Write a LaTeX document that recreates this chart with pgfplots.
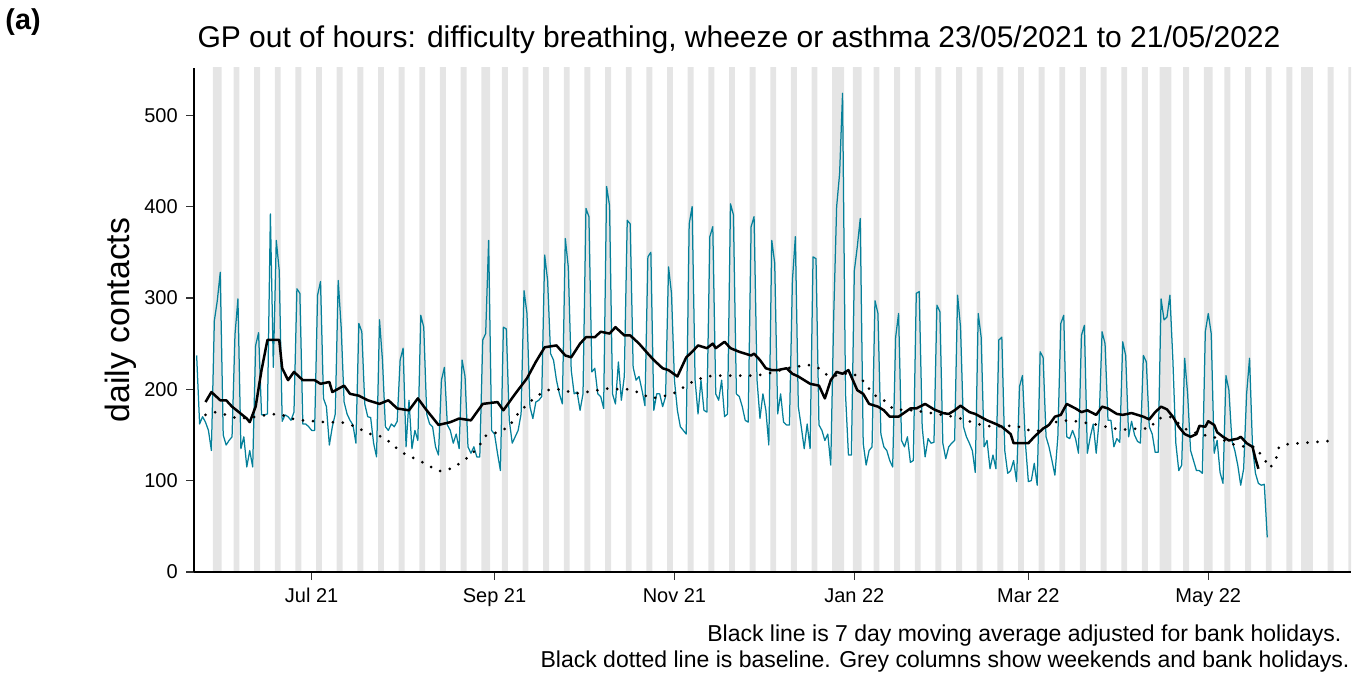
\documentclass[border=0pt]{standalone}
\usepackage{fontspec}
\setmainfont{Liberation Sans}
\usepackage{pgfplots}
\pgfplotsset{compat=1.18}
\definecolor{ukteal}{HTML}{05809A}
\definecolor{colgrey}{gray}{0.9}

\begin{document}
\begin{tikzpicture}
\begin{axis}[
    name=main,
    scale only axis,
    width=462.8pt, height=201.6pt,
    xmin=-0.9, xmax=391.4, ymin=0, ymax=551.7,
    axis on top,
    axis x line*=bottom, axis y line*=left,
    axis line style={line width=1pt, -},
    xtick={39,101,162,223,282,343},
    xticklabels={Jul 21,Sep 21,Nov 21,Jan 22,Mar 22,May 22},
    ytick={0,100,200,300,400,500},
    tick align=outside, major tick length=3pt,
    tick style={black!80, line width=0.5pt},
    ticklabel style={font=\fontsize{8}{9}\selectfont},
    /pgf/number format/assume math mode=true,
]
% weekends and bank holidays (day 0 = 23/05/2021)
\addplot[ybar, bar width=1, fill=colgrey, draw=none] coordinates {
(6,560)(7,560)(8,560)(13,560)(14,560)(20,560)(21,560)(27,560)(28,560)(34,560)(35,560)
(41,560)(42,560)(48,560)(49,560)(55,560)(56,560)(62,560)(63,560)(69,560)(70,560)
(76,560)(77,560)(83,560)(84,560)(90,560)(91,560)(97,560)(98,560)(99,560)(104,560)(105,560)
(111,560)(112,560)(118,560)(119,560)(125,560)(126,560)(132,560)(133,560)(139,560)(140,560)
(146,560)(147,560)(153,560)(154,560)(160,560)(161,560)(167,560)(168,560)(174,560)(175,560)
(181,560)(182,560)(188,560)(189,560)(195,560)(196,560)(202,560)(203,560)(209,560)(210,560)
(216,560)(217,560)(218,560)(219,560)(223,560)(224,560)(225,560)(230,560)(231,560)
(237,560)(238,560)(244,560)(245,560)(251,560)(252,560)(258,560)(259,560)(265,560)(266,560)
(272,560)(273,560)(279,560)(280,560)(286,560)(287,560)(293,560)(294,560)(300,560)(301,560)
(307,560)(308,560)(314,560)(315,560)(321,560)(322,560)(327,560)(328,560)(329,560)(330,560)
(335,560)(336,560)(342,560)(343,560)(344,560)(349,560)(350,560)(356,560)(357,560)
(363,560)(364,560)(370,560)(371,560)(375,560)(376,560)(377,560)(378,560)
(384,560)(385,560)(391,560)
};
% daily contacts
\addplot[ukteal, line width=0.5pt, line join=round, mark=none] coordinates {
(0,237)(1,162)(2,170)(3,164)(4,155)(5,133)(6,275)(7,297)(8,328)(9,150)
(10,139)(11,144)(12,148)(13,260)(14,299)(15,135)(16,148)(17,115)(18,133)(19,115)
(20,248)(21,262)(22,172)(23,172)(24,173)(25,392)(26,224)(27,363)(28,330)(29,165)
(30,172)(31,170)(32,166)(33,175)(34,310)(35,305)(36,162)(37,162)(38,159)(39,155)
(40,155)(41,303)(42,318)(43,190)(44,181)(45,139)(46,159)(47,173)(48,319)(49,268)
(50,186)(51,173)(52,166)(53,161)(54,141)(55,272)(56,263)(57,184)(58,170)(59,169)
(60,141)(61,126)(62,276)(63,232)(64,159)(65,155)(66,162)(67,159)(68,165)(69,232)
(70,245)(71,137)(72,188)(73,135)(74,155)(75,144)(76,281)(77,268)(78,173)(79,162)
(80,159)(81,137)(82,128)(83,210)(84,224)(85,161)(86,155)(87,141)(88,151)(89,135)
(90,232)(91,214)(92,137)(93,130)(94,137)(95,126)(96,126)(97,254)(98,261)(99,363)
(100,155)(101,151)(102,130)(103,111)(104,268)(105,266)(106,166)(107,141)(108,148)(109,155)
(110,173)(111,308)(112,283)(113,181)(114,168)(115,186)(116,188)(117,192)(118,347)(119,319)
(120,239)(121,232)(122,210)(123,195)(124,184)(125,365)(126,334)(127,221)(128,195)(129,197)
(130,177)(131,195)(132,398)(133,389)(134,219)(135,223)(136,195)(137,192)(138,179)(139,422)
(140,401)(141,195)(142,184)(143,230)(144,188)(145,214)(146,385)(147,381)(148,224)(149,210)
(150,214)(151,199)(152,182)(153,345)(154,350)(155,177)(156,195)(157,195)(158,181)(159,192)
(160,334)(161,305)(162,210)(163,177)(164,159)(165,155)(166,151)(167,381)(168,400)(169,210)
(170,173)(171,210)(172,177)(173,175)(174,367)(175,378)(176,195)(177,188)(178,210)(179,170)
(180,173)(181,403)(182,391)(183,195)(184,192)(185,181)(186,166)(187,164)(188,378)(189,389)
(190,210)(191,168)(192,195)(193,177)(194,139)(195,363)(196,338)(197,173)(198,195)(199,164)
(200,161)(201,161)(202,319)(203,367)(204,181)(205,159)(206,135)(207,162)(208,135)(209,345)
(210,343)(211,161)(212,155)(213,144)(214,151)(215,117)(216,280)(217,400)(218,436)(219,524)
(220,195)(221,128)(222,128)(223,330)(224,356)(225,387)(226,141)(227,117)(228,133)(229,137)
(230,297)(231,283)(232,151)(233,137)(234,133)(235,122)(236,115)(237,257)(238,283)(239,144)
(240,137)(241,148)(242,120)(243,122)(244,305)(245,307)(246,159)(247,126)(248,146)(249,141)
(250,142)(251,292)(252,285)(253,141)(254,124)(255,137)(256,141)(257,144)(258,303)(259,268)
(260,159)(261,148)(262,141)(263,133)(264,109)(265,283)(266,257)(267,137)(268,144)(269,113)
(270,128)(271,113)(272,254)(273,257)(274,133)(275,108)(276,111)(277,122)(278,99)(279,203)
(280,215)(281,141)(282,99)(283,100)(284,119)(285,95)(286,241)(287,235)(288,148)(289,137)
(290,122)(291,106)(292,148)(293,272)(294,281)(295,148)(296,146)(297,155)(298,146)(299,130)
(300,259)(301,270)(302,130)(303,148)(304,162)(305,130)(306,166)(307,263)(308,250)(309,166)
(310,166)(311,137)(312,146)(313,142)(314,252)(315,237)(316,148)(317,165)(318,150)(319,143)
(320,141)(321,237)(322,230)(323,159)(324,151)(325,131)(326,131)(327,299)(328,276)(329,279)
(330,303)(331,232)(332,141)(333,111)(334,117)(335,234)(336,195)(337,133)(338,122)(339,111)
(340,111)(341,108)(342,263)(343,283)(344,261)(345,130)(346,144)(347,109)(348,97)(349,215)
(350,199)(351,144)(352,133)(353,117)(354,95)(355,113)(356,195)(357,234)(358,137)(359,108)
(360,97)(361,95)(362,96)(363,38)
};
% baseline
\addplot[black, line width=1.2pt, line cap=round, dash pattern=on 0pt off 4pt, mark=none] coordinates {
(3,172)(6,175)(10,172)(14,168)(21,170)(25,173)(29,172)(32,168)(36,166)(40,165)(44,164)
(48,164)(51,163)(55,157)(59,151)(63,148)(66,141)(69,132)(72,127)(76,121)(80,114)(83,110)
(87,114)(90,121)(93,128)(96,139)(98,149)(102,153)(106,159)(108,170)(111,180)(114,189)
(117,196)(120,200)(124,200)(128,195)(132,197)(136,199)(140,201)(143,200)(147,200)(151,195)
(154,190)(158,192)(162,196)(166,204)(169,210)(173,214)(176,215)(180,215)(184,215)(188,215)
(192,216)(196,219)(200,223)(204,225)(207,227)(211,223)(214,215)(218,215)(221,218)(224,215)
(227,206)(229,195)(233,188)(236,179)(240,177)(243,177)(247,175)(251,173)(255,171)(259,168)
(262,165)(266,161)(270,159)(274,160)(278,160)(281,156)(285,154)(288,159)(292,165)(296,166)
(300,164)(304,162)(307,160)(311,157)(315,156)(319,157)(323,157)(326,168)(330,170)(336,155)
(340,151)(347,146)(352,139)(356,137)(359,137)(364,114)(366,124)(367,137)(370,140)(374,141)
(378,142)(382,143)(386,144)
};
% 7 day moving average
\addplot[black, line width=1pt, line join=round, mark=none] coordinates {
(3,186)(5,197)(8,188)(10,188)(12,181)(17,168)(18,164)(20,181)(22,221)(24,254)(28,254)
(29,223)(31,210)(33,219)(36,210)(40,210)(42,206)(45,208)(46,197)(50,204)(52,195)(55,193)
(58,188)(62,184)(65,188)(68,179)(72,177)(75,190)(78,177)(82,161)(86,164)(89,168)(93,166)
(97,184)(102,186)(104,177)(108,195)(112,212)(115,230)(118,246)(122,248)(125,237)(127,235)
(130,250)(132,257)(135,257)(137,263)(140,261)(142,268)(145,259)(147,259)(150,250)(153,239)
(155,232)(158,223)(160,221)(163,214)(166,235)(168,241)(170,248)(173,245)(175,250)(176,245)
(179,252)(181,245)(184,241)(188,237)(189,239)(191,232)(193,223)(195,221)(197,221)(200,223)
(202,217)(204,214)(206,210)(208,206)(211,204)(213,190)(215,210)(217,219)(219,217)(221,221)
(224,199)(226,195)(228,184)(231,181)(233,177)(235,170)(238,170)(242,179)(244,179)(247,184)
(250,178)(253,174)(255,173)(257,177)(259,182)(262,175)(264,173)(268,166)(271,162)(273,159)
(276,151)(277,141)(280,141)(282,141)(284,148)(287,157)(289,161)(291,170)(293,172)(295,184)
(298,179)(300,175)(302,177)(305,172)(307,181)(309,179)(312,173)(314,172)(317,174)(319,172)
(321,170)(323,167)(325,175)(327,181)(329,178)(331,170)(333,159)(335,151)(337,148)(339,151)
(340,160)(342,159)(343,165)(345,161)(346,153)(348,148)(350,144)(353,146)(354,148)(356,141)
(358,137)(359,124)(360,113)
};
\end{axis}
\node[inner sep=0pt, anchor=base west, font=\bfseries\fontsize{11.5}{14}\selectfont] at ([shift={(-75.6pt,15.2pt)}]main.north west) {(a)};
\node[inner sep=0pt, anchor=base west, font=\fontsize{12}{14}\selectfont] at ([shift={(1.2pt,8pt)}]main.north west) {GP out of hours: difficulty breathing, wheeze or asthma 23/05/2021 to 21/05/2022};
\node[rotate=90, font=\fontsize{13.5}{16}\selectfont] at ([xshift=-29.2pt]main.west) {daily contacts};
\node[inner sep=0pt, anchor=base east, font=\fontsize{9.2}{11}\selectfont] at ([shift={(-3.6pt,-27.6pt)}]main.south east) {Black line is 7 day moving average adjusted for bank holidays.};
\node[inner sep=0pt, anchor=base east, font=\fontsize{9.2}{11}\selectfont] at ([shift={(-0.4pt,-38pt)}]main.south east) {Black dotted line is baseline. Grey columns show weekends and bank holidays.};
\pgfresetboundingbox
\path[use as bounding box] ([shift={(-77.6pt,-41.2pt)}]main.south west) rectangle ([shift={(4.4pt,27.2pt)}]main.north east);
\end{tikzpicture}
\end{document}
